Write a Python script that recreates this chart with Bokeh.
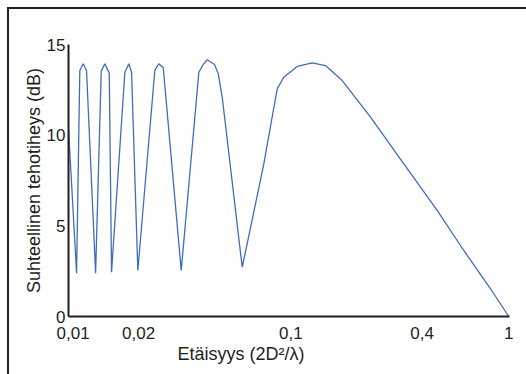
from bokeh.plotting import figure
from bokeh.models import Range1d, FixedTicker, Title
from bokeh.embed import file_html
from bokeh.resources import INLINE

# distance (in units of 2D^2/lambda) and relative power density (dB)
distance = [0.00954, 0.01038, 0.01074, 0.01114, 0.01153, 0.01269, 0.01347, 0.01399,
            0.01466, 0.01502, 0.01729, 0.01803, 0.01856, 0.01983, 0.02373, 0.02476,
            0.02594, 0.03137, 0.03779, 0.03959, 0.04130, 0.04461, 0.04639, 0.04839,
            0.05976, 0.06880, 0.07508, 0.08652, 0.09277, 0.1069, 0.1253, 0.1441,
            0.1719, 0.2319, 0.3298, 0.4692, 0.6216, 0.8243, 1.0]
power_db = [10.26, 2.39, 13.57, 13.94, 13.57, 2.39, 13.53, 13.94,
            13.42, 2.44, 13.47, 13.94, 13.47, 2.54, 13.57, 13.94,
            13.72, 2.54, 13.47, 13.90, 14.16, 13.90, 13.38, 12.09,
            2.72, 6.22, 8.42, 12.56, 13.20, 13.79, 13.99, 13.84,
            13.01, 10.99, 8.42, 5.85, 3.64, 1.53, 0.0]

x_ticks = [0.01, 0.02, 0.1, 0.4, 1]
x_tick_labels = ["0,01", "0,02", "0,1", "0,4", "1"]
y_ticks = [0, 5, 10, 15]
y_tick_labels = ["0", "5", "10", "15"]

FONT = "Liberation Sans"
TXT = "#231f20"

p = figure(frame_width=441, frame_height=272, x_axis_type="log",
           x_range=Range1d(0.00953, 1.0074), y_range=Range1d(0, 15),
           output_backend="svg", toolbar_location=None,
           min_border_left=68, min_border_right=17, min_border_top=44, min_border_bottom=58)

p.line(distance, power_db, line_color="#3f6cbf", line_width=1.3)

p.grid.visible = False
p.outline_line_color = None
p.background_fill_color = "white"
p.border_fill_color = None

for ax in (p.xaxis[0], p.yaxis[0]):
    ax.axis_line_color = TXT
    ax.axis_line_width = 2
    ax.major_tick_line_color = None
    ax.minor_tick_line_color = None
    ax.major_tick_out = 0
    ax.major_tick_in = 0
    ax.minor_tick_out = 0
    ax.minor_tick_in = 0
    ax.major_label_text_font = FONT
    ax.major_label_text_color = TXT

p.xaxis[0].ticker = FixedTicker(ticks=x_ticks)
p.xaxis[0].major_label_overrides = dict(zip(x_ticks, x_tick_labels))
p.xaxis[0].major_label_text_font_size = "17px"
p.xaxis[0].major_label_standoff = 10

p.yaxis[0].ticker = FixedTicker(ticks=y_ticks)
p.yaxis[0].major_label_overrides = dict(zip(y_ticks, y_tick_labels))
p.yaxis[0].major_label_text_font_size = "17px"
p.yaxis[0].major_label_standoff = 3
p.yaxis[0].axis_label = "Suhteellinen tehotiheys (dB)"
p.yaxis[0].axis_label_text_font = FONT
p.yaxis[0].axis_label_text_font_size = "18px"
p.yaxis[0].axis_label_text_font_style = "normal"
p.yaxis[0].axis_label_text_color = TXT
p.yaxis[0].axis_label_standoff = 0

xtitle = Title(text="Etäisyys (2D²/λ)", align="left", offset=109, standoff=1,
               text_font=FONT, text_font_size="18px", text_font_style="normal",
               text_color=TXT)
p.add_layout(xtitle, "below")

# partial outer frame (top and left edges), as in the original figure
p.styles = {
    "background": "linear-gradient(#231f20, #231f20) 7px 7px / 2px 100% no-repeat, "
                  "linear-gradient(#231f20, #231f20) 7px 7px / 100% 2px no-repeat, white"
}

open("out.html", "w").write(file_html(p, INLINE))
